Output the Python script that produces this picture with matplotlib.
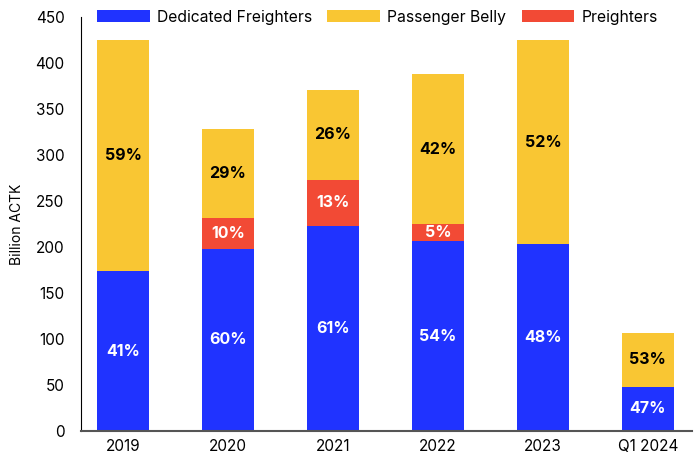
import matplotlib.pyplot as plt
import numpy as np

plt.rcParams['font.family'] = ['Inter', 'DejaVu Sans']

# data (billion ACTK)
years = ['2019', '2020', '2021', '2022', '2023', 'Q1 2024']
dedicated = [174, 198, 223, 206.5, 203, 48]
preighters = [0, 33.5, 50, 18.5, 0, 0]
belly = [251, 96.5, 98, 163, 222, 58.5]

pct_ded = ['41%', '60%', '61%', '54%', '48%', '47%']
pct_pre = ['', '10%', '13%', '5%', '', '']
pct_bel = ['59%', '29%', '26%', '42%', '52%', '53%']

c_blue = '#2033FF'
c_yellow = '#F9C633'
c_red = '#F24A35'

fig = plt.figure(figsize=(6.99, 4.62), dpi=100)
ax = fig.add_axes([0.116, 0.067, 0.874, 0.896])

x = np.arange(len(years))
w = 0.5
ded = np.array(dedicated)
pre = np.array(preighters)
bel = np.array(belly)

ax.bar(x, ded, w, color=c_blue, label='Dedicated Freighters')
ax.bar(x, bel, w, bottom=ded + pre, color=c_yellow, label='Passenger Belly')
ax.bar(x, pre, w, bottom=ded, color=c_red, label='Preighters')

for i in range(len(years)):
    ax.text(x[i], ded[i] / 2, pct_ded[i], ha='center', va='center',
            color='white', fontsize=11.5, fontweight='bold')
    if pct_pre[i]:
        ax.text(x[i], ded[i] + pre[i] / 2, pct_pre[i], ha='center', va='center',
                color='white', fontsize=11.5, fontweight='bold')
    ax.text(x[i], ded[i] + pre[i] + bel[i] / 2, pct_bel[i], ha='center', va='center',
            color='black', fontsize=11.5, fontweight='bold')

ax.set_xlim(-0.4, 5.42)
ax.set_ylim(0, 450)
ax.set_yticks(range(0, 451, 50))
ax.set_xticks(x)
ax.set_xticklabels(years)
ax.tick_params(axis='both', labelsize=11, length=0, pad=6)
ax.tick_params(axis='y', pad=12)
ax.set_ylabel('Billion ACTK', fontsize=10, labelpad=8)

for s in ['top', 'right']:
    ax.spines[s].set_visible(False)
ax.spines['left'].set_color('black')
ax.spines['bottom'].set_color('#555555')
ax.spines['bottom'].set_linewidth(1.5)

ax.legend(loc='center left', bbox_to_anchor=(0.026, 1.0), ncol=3, frameon=False,
          fontsize=11.3, handlelength=3.35, handleheight=0.8, columnspacing=1.0,
          handletextpad=0.45, borderpad=0, borderaxespad=0)

fig.savefig('out.png', dpi=100)
